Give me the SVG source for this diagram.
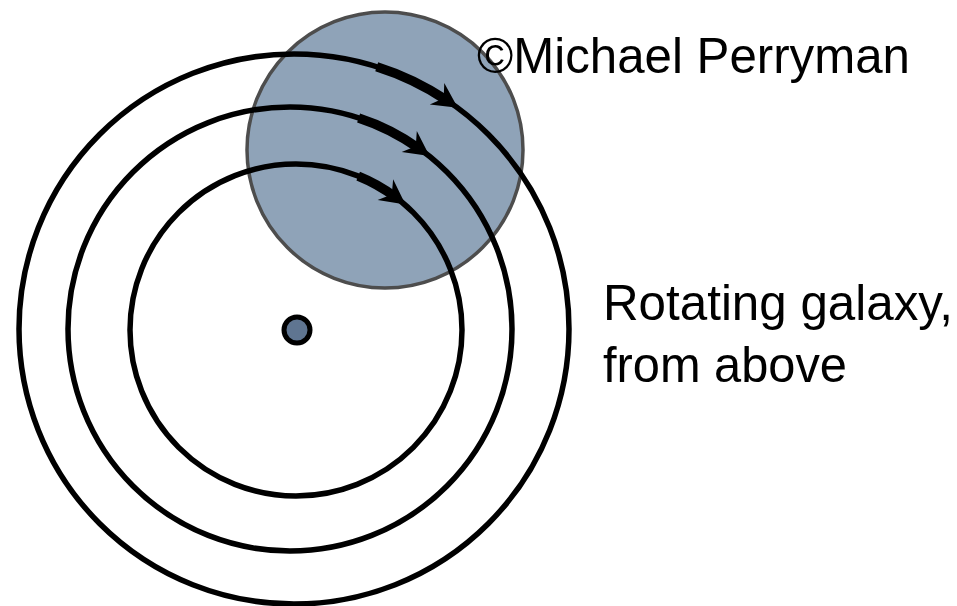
<svg xmlns="http://www.w3.org/2000/svg" width="957" height="606" viewBox="0 0 957 606">
  <style>
    .orbit { fill: none; stroke: #000; stroke-width: 5.5; }
    .thick { fill: none; stroke: #000; stroke-width: 9.5; marker-end: url(#head); }
    .lbl { font-family: "Liberation Sans", Arial, Helvetica, sans-serif; font-size: 50px; fill: #000; }
  </style>
  <defs>
    <marker id="head" markerUnits="userSpaceOnUse" markerWidth="40" markerHeight="40" refX="0" refY="0" orient="auto" overflow="visible">
      <path d="M13,0 L-12,-13 L-4,0 L-12,13 Z" fill="#000"/>
    </marker>
  </defs>
  <rect width="957" height="606" fill="#fff"/>
  <g id="region">
    <circle cx="385" cy="150" r="138" fill="#8fa3b8" stroke="#4d4d4d" stroke-width="3.5"/>
  </g>
  <g id="orbits">
    <circle class="orbit" cx="294" cy="329" r="275"/>
    <circle class="orbit" cx="290" cy="329" r="222"/>
    <circle class="orbit" cx="296" cy="330" r="166"/>
  </g>
  <g id="arrows">
    <path class="thick" d="M376.7,66.7 A275,275 0 0 1 447.0,100.5"/>
    <path class="thick" d="M358.6,117.9 A222,222 0 0 1 419.0,148.5"/>
    <path class="thick" d="M358.2,176.1 A166,166 0 0 1 395.0,196.8"/>
  </g>
  <g id="center">
    <circle cx="297" cy="330" r="13" fill="#5f7591" stroke="#000" stroke-width="5"/>
  </g>
  <g id="labels">
    <text class="lbl" x="477" y="73" textLength="433" lengthAdjust="spacingAndGlyphs">©Michael Perryman</text>
    <text class="lbl" x="603" y="320" textLength="350" lengthAdjust="spacingAndGlyphs">Rotating galaxy,</text>
    <text class="lbl" x="603" y="382" textLength="244" lengthAdjust="spacingAndGlyphs">from above</text>
  </g>
</svg>
